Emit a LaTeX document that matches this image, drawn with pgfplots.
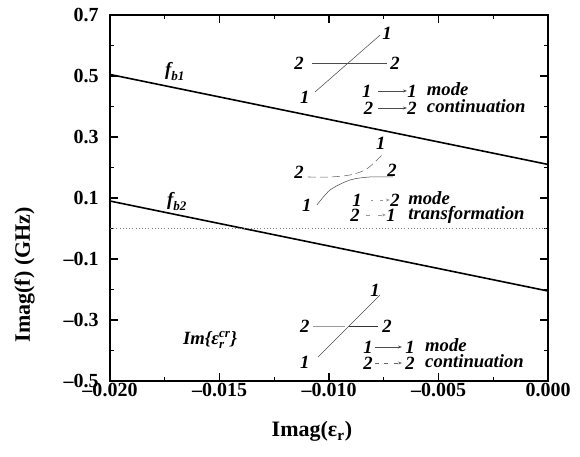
\documentclass[border=0pt]{standalone}
\usepackage{fontspec}
\setmainfont{Liberation Serif}
\usepackage{amsmath}
\usepackage{pgfplots}
\pgfplotsset{compat=1.18}
\usetikzlibrary{arrows.meta}

\tikzset{ann/.style={font=\fontsize{14}{16}\selectfont\bfseries\itshape, inner sep=1pt}}

\begin{document}
\begin{tikzpicture}
\begin{axis}[
    scale only axis,
    width=328.5pt, height=274.5pt,
    xmin=-0.02, xmax=0, ymin=-0.5, ymax=0.7,
    scaled ticks=false,
    xtick={-0.02,-0.015,-0.01,-0.005,0},
    xticklabels={--0.020,--0.015,--0.010,--0.005,0.000},
    minor xtick={-0.0175,-0.0125,-0.0075,-0.0025},
    ytick={-0.5,-0.3,-0.1,0.1,0.3,0.5,0.7},
    yticklabels={--0.5,--0.3,--0.1,0.1,0.3,0.5,0.7},
    minor ytick={-0.4,-0.2,0,0.2,0.4,0.6},
    tick align=inside,
    major tick length=6pt, minor tick length=3pt,
    tick style={black, line width=0.8pt},
    axis line style={line width=1.2pt},
    ticklabel style={font=\fontsize{15}{17}\selectfont\bfseries},
    xticklabel style={yshift=2pt},
    yticklabel style={xshift=-5pt},
    label style={font=\fontsize{16.5}{19}\selectfont\bfseries},
    xlabel={Imag(ε$_{\textbf{r}}$)},
    ylabel={Imag(f) (GHz)},
    xlabel style={at={(axis description cs:0.461,0)}, anchor=center, yshift=-38pt},
    ylabel style={at={(axis description cs:0,0.29)}, anchor=center, yshift=64pt},
    clip=false,
]
% resonance branches
\addplot[black, line width=1.2pt] coordinates {(-0.02,0.505) (0,0.21)};
\addplot[black, line width=1.2pt] coordinates {(-0.02,0.09) (0,-0.205)};
\addplot[gray, dotted, thin] coordinates {(-0.02,0) (0,0)};

\node[ann] at (axis cs:-0.01703,0.515) {$\textbf{\textit{f}}_{\textbf{\textit{b1}}}$};
\node[ann] at (axis cs:-0.01694,0.088) {$\textbf{\textit{f}}_{\textbf{\textit{b2}}}$};

% inset 1: continuation (top)
\addplot[black!70, thin] coordinates {(-0.01064,0.4475) (-0.00767,0.634)};
\addplot[black!70, thin] coordinates {(-0.01078,0.5426) (-0.00735,0.5426)};
\node[ann] at (axis cs:-0.00735,0.641) {1};
\node[ann] at (axis cs:-0.01137,0.543) {2};
\node[ann] at (axis cs:-0.00699,0.543) {2};
\node[ann] at (axis cs:-0.01110,0.431) {1};
\node[ann] at (axis cs:-0.00827,0.451) {1};
\addplot[black!70, thin, -{Stealth[length=3pt]}] coordinates {(-0.00776,0.451) (-0.00644,0.451)};
\node[ann] at (axis cs:-0.00621,0.451) {1};
\node[ann, anchor=mid west] at (axis cs:-0.00560,0.446) {mode};
\node[ann] at (axis cs:-0.00820,0.395) {2};
\addplot[black!70, thin, -{Stealth[length=3pt]}] coordinates {(-0.00776,0.395) (-0.00644,0.395)};
\node[ann] at (axis cs:-0.00621,0.395) {2};
\node[ann, anchor=mid west] at (axis cs:-0.00560,0.390) {continuation};

% inset 2: transformation (middle)
\addplot[black!60, thin, dash pattern=on 6pt off 3pt, smooth] coordinates {
    (-0.01096,0.1689) (-0.00995,0.1689) (-0.00904,0.1754)
    (-0.00836,0.1918) (-0.00790,0.218) (-0.00758,0.241)};
\addplot[black!70, thin, smooth] coordinates {
    (-0.01055,0.077) (-0.00995,0.1262) (-0.00904,0.159)
    (-0.00813,0.1689) (-0.00708,0.1689)};
\node[ann] at (axis cs:-0.00763,0.280) {1};
\node[ann] at (axis cs:-0.01137,0.1852) {2};
\node[ann] at (axis cs:-0.00712,0.1918) {2};
\node[ann] at (axis cs:-0.01101,0.077) {1};
\node[ann] at (axis cs:-0.00872,0.0934) {1};
\addplot[black!40, thin, dash pattern=on 2pt off 5pt, -{Stealth[length=3pt]}] coordinates {(-0.00810,0.0934) (-0.00722,0.0934)};
\node[ann] at (axis cs:-0.00699,0.0934) {2};
\node[ann, anchor=mid west] at (axis cs:-0.00645,0.0884) {mode};
\node[ann] at (axis cs:-0.00881,0.0443) {2};
\addplot[black!40, thin, dash pattern=on 3pt off 6pt, -{Stealth[length=3pt]}] coordinates {(-0.00830,0.0443) (-0.00740,0.0443)};
\node[ann] at (axis cs:-0.00717,0.0443) {1};
\node[ann, anchor=mid west] at (axis cs:-0.00645,0.0393) {transformation};

% inset 3: continuation (bottom)
\addplot[black!70, thin] coordinates {(-0.01050,-0.4213) (-0.00767,-0.218)};
\addplot[black!40, thin] coordinates {(-0.01073,-0.3197) (-0.00925,-0.3197)};
\addplot[black!80, thin] coordinates {(-0.00910,-0.3197) (-0.00776,-0.3197)};
\node[ann] at (axis cs:-0.00790,-0.2016) {1};
\node[ann] at (axis cs:-0.01110,-0.3197) {2};
\node[ann] at (axis cs:-0.00735,-0.3197) {2};
\node[ann] at (axis cs:-0.01110,-0.4377) {1};
\node[ann] at (axis cs:-0.00822,-0.3885) {1};
\addplot[black!70, thin, -{Stealth[length=3pt]}] coordinates {(-0.00790,-0.3885) (-0.00667,-0.3885)};
\node[ann] at (axis cs:-0.00630,-0.3885) {1};
\node[ann, anchor=mid west] at (axis cs:-0.00568,-0.3935) {mode};
\node[ann] at (axis cs:-0.00822,-0.441) {2};
\addplot[black!60, thin, dash pattern=on 3pt off 4pt, -{Stealth[length=3pt]}] coordinates {(-0.00790,-0.441) (-0.00667,-0.441)};
\node[ann] at (axis cs:-0.00630,-0.441) {2};
\node[ann, anchor=mid west] at (axis cs:-0.00568,-0.446) {continuation};

\node[ann] at (axis cs:-0.01543,-0.3656) {Im\{ε$^{\textbf{\textit{cr}}}_{\textbf{\textit{r}}}$\}};
\end{axis}
\path ([xshift=-82.5pt,yshift=-57pt]current axis.south west) rectangle ([xshift=24pt,yshift=11.25pt]current axis.north east);
\end{tikzpicture}
\end{document}
